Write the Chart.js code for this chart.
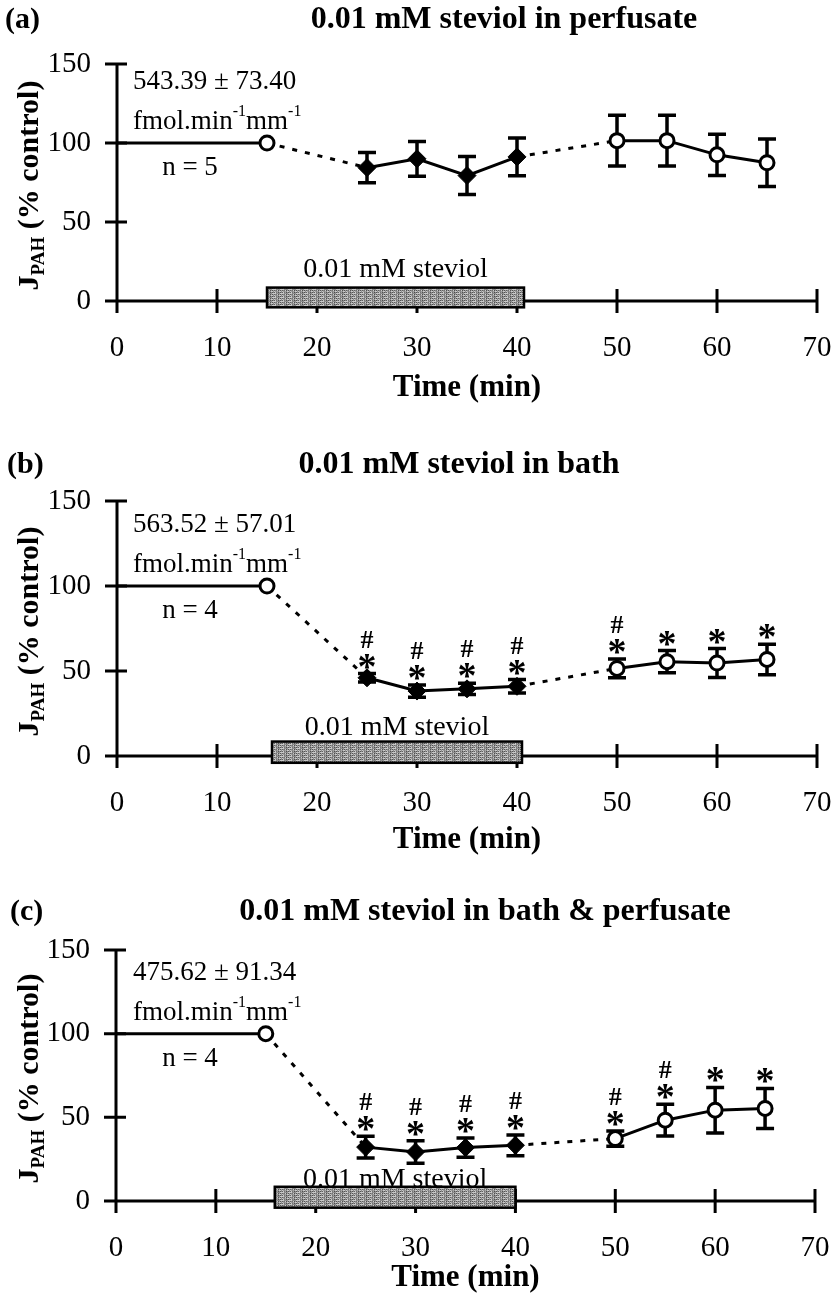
<!DOCTYPE html>
<html>
<head>
<meta charset="utf-8">
<script src="https://cdn.jsdelivr.net/npm/chart.js@4.4.1/dist/chart.umd.min.js"></script>
<style>
  html, body { margin: 0; padding: 0; background: #fff; }
  #wrap { position: relative; width: 835px; height: 1294px; overflow: hidden; background: #fff; }
  #wrap canvas { position: absolute; left: 0; }
</style>
</head>
<body>
<div id="wrap">
  <canvas id="chartA" width="835" height="420"></canvas>
  <canvas id="chartB" width="835" height="450"></canvas>
  <canvas id="chartC" width="835" height="439"></canvas>
</div>
<script>
// ---- data ----
var timePoints = [15, 25, 30, 35, 40, 50, 55, 60, 65];
var duringSteviol = [false, true, true, true, true, false, false, false, false];
var controlSpan = [0, 15];

var perfusateMean = [100, 84.4, 90, 79.4, 91.2, 101.5, 101.5, 92.5, 87.5];
var perfusateSem  = [0, 9.6, 11, 12, 12, 16, 16, 13, 15];
var perfusateStar = [0, 0, 0, 0, 0, 0, 0, 0, 0];
var perfusateHash = [0, 0, 0, 0, 0, 0, 0, 0, 0];

var bathMean = [100, 46, 38.2, 39.5, 41, 51.5, 55.5, 54.7, 56.8];
var bathSem  = [0, 2.5, 3.6, 3.3, 4, 5.5, 6.5, 8.5, 9];
var bathStar = [0, 1, 1, 1, 1, 1, 1, 1, 1];
var bathHash = [0, 1, 1, 1, 1, 1, 0, 0, 0];

var bothMean = [100, 32.2, 29.3, 31.9, 33.3, 37.3, 48.3, 54.3, 55.3];
var bothSem  = [0, 6.5, 6.7, 5.8, 6.2, 4.6, 9.5, 13.6, 12];
var bothStar = [0, 1, 1, 1, 1, 1, 1, 1, 1];
var bothHash = [0, 1, 1, 1, 1, 1, 1, 0, 0];

var steviolStart = [15, 15.5, 15.9];
var steviolEnd   = [40.7, 40.5, 40.0];

var panelTags   = ['(a)', '(b)', '(c)'];
var panelTitles = ['0.01 mM steviol in perfusate', '0.01 mM steviol in bath', '0.01 mM steviol in bath & perfusate'];
var controlText = ['543.39 \u00B1 73.40', '563.52 \u00B1 57.01', '475.62 \u00B1 91.34'];
var nText       = ['n = 5', 'n = 4', 'n = 4'];

var xMin = 0, xMax = 70, xStep = 10;
var yMin = 0, yMax = 150, yStep = 50;

// ---- page layout (pixels, page coordinates) ----
var layout = [
  { id: 'chartA', top: 0,   height: 420, left: 117, right: 817, yTop: 64,  y0: 301,  xTitleY: 388,  tagX: 5,  headY: 20,  titleX: 504, barLabelUp: 31 },
  { id: 'chartB', top: 415, height: 450, left: 117, right: 817, yTop: 501, y0: 756,  xTitleY: 840,  tagX: 7,  headY: 465, titleX: 459, barLabelUp: 28 },
  { id: 'chartC', top: 855, height: 439, left: 116, right: 815, yTop: 950, y0: 1201, xTitleY: 1278, tagX: 10, headY: 912, titleX: 485, barLabelUp: 21 }
];

var serif = '"Liberation Serif", "Times New Roman", serif';

function speckle() {
  var c = document.createElement('canvas');
  c.width = 8; c.height = 8;
  var g = c.getContext('2d');
  var shades = ['#505050', '#a0a0a0', '#727272', '#c8c8c8', '#606060', '#8c8c8c'];
  for (var i = 0; i < 8; i++) {
    for (var j = 0; j < 8; j++) {
      g.fillStyle = shades[(i * 5 + j * 3 + (i * j) % 4) % 6];
      g.fillRect(i, j, 1, 1);
    }
  }
  return c;
}

function panelPlugin(k, mean, sem, star, hash) {
  var p = layout[k];
  return {
    id: 'panelDecor',
    beforeDatasetsDraw: function (chart) {
      var ctx = chart.ctx, xs = chart.scales.x, ys = chart.scales.y;
      var x0 = xs.getPixelForValue(xMin), y0 = ys.getPixelForValue(yMin);
      ctx.save();
      ctx.strokeStyle = '#000';
      ctx.lineWidth = 3;
      ctx.beginPath();
      ctx.moveTo(x0, ys.getPixelForValue(yMax));
      ctx.lineTo(x0, y0 + 12);
      ctx.moveTo(x0 - 12, y0);
      ctx.lineTo(xs.getPixelForValue(xMax), y0);
      ys.ticks.forEach(function (t) {
        var py = ys.getPixelForValue(t.value);
        ctx.moveTo(x0 - 12, py); ctx.lineTo(x0 + 10, py);
      });
      xs.ticks.forEach(function (t) {
        if (t.value === xMin) return;
        var px = xs.getPixelForValue(t.value);
        ctx.moveTo(px, y0 - 12); ctx.lineTo(px, y0 + 12);
      });
      ctx.stroke();

      // steviol application bar
      var bx1 = xs.getPixelForValue(steviolStart[k]);
      var bx2 = xs.getPixelForValue(steviolEnd[k]);
      var by1 = ys.getPixelForValue(8.5);
      var by2 = ys.getPixelForValue(-4);
      ctx.fillStyle = ctx.createPattern(speckle(), 'repeat');
      ctx.fillRect(bx1, by1, bx2 - bx1, by2 - by1);
      ctx.lineWidth = 2.5;
      ctx.strokeRect(bx1, by1, bx2 - bx1, by2 - by1);
      ctx.fillStyle = '#000';
      ctx.font = '28px ' + serif;
      ctx.textAlign = 'center';
      ctx.textBaseline = 'middle';
      ctx.fillText('0.01 mM steviol', (bx1 + bx2) / 2, y0 - p.barLabelUp);

      // error bars
      ctx.lineWidth = 3.5;
      ctx.beginPath();
      timePoints.forEach(function (t, i) {
        if (!sem[i]) return;
        var px = xs.getPixelForValue(t);
        var hi = ys.getPixelForValue(mean[i] + sem[i]);
        var lo = ys.getPixelForValue(mean[i] - sem[i]);
        ctx.moveTo(px, hi); ctx.lineTo(px, lo);
        ctx.moveTo(px - 9, hi); ctx.lineTo(px + 9, hi);
        ctx.moveTo(px - 9, lo); ctx.lineTo(px + 9, lo);
      });
      ctx.stroke();
      ctx.restore();
    },
    afterDatasetsDraw: function (chart) {
      var ctx = chart.ctx, xs = chart.scales.x, ys = chart.scales.y;
      var off = p.top;
      ctx.save();
      ctx.fillStyle = '#000';

      // significance marks
      ctx.textAlign = 'center';
      ctx.textBaseline = 'alphabetic';
      timePoints.forEach(function (t, i) {
        var px = xs.getPixelForValue(t);
        var sy = ys.getPixelForValue(mean[i] + sem[i]) - 13;
        if (star[i]) {
          ctx.font = 'bold 38px ' + serif;
          ctx.fillText('*', px, sy + 18);
        }
        if (hash[i]) {
          ctx.font = 'bold 26px ' + serif;
          ctx.fillText('#', px, sy - 22 + 9);
        }
      });

      // panel tag and title
      ctx.textBaseline = 'middle';
      ctx.textAlign = 'left';
      ctx.font = 'bold 30px ' + serif;
      ctx.fillText(panelTags[k], p.tagX, p.headY - off);
      ctx.textAlign = 'center';
      ctx.font = 'bold 32px ' + serif;
      ctx.fillText(panelTitles[k], p.titleX, p.headY - off);

      // control value annotation
      var y100 = ys.getPixelForValue(100);
      ctx.textAlign = 'left';
      ctx.font = '27px ' + serif;
      ctx.fillText(controlText[k], 133, y100 - 61);
      var fx = 133, fy = y100 - 21;
      var parts = [['fmol.min', 27, 0], ['-1', 16, -10], ['mm', 27, 0], ['-1', 16, -10]];
      parts.forEach(function (s) {
        ctx.font = s[1] + 'px ' + serif;
        ctx.fillText(s[0], fx, fy + s[2]);
        fx += ctx.measureText(s[0]).width;
      });
      ctx.textAlign = 'center';
      ctx.font = '27px ' + serif;
      ctx.fillText(nText[k], 190, y100 + 25);

      // y axis title with subscript
      var cy = (ys.getPixelForValue(yMax) + ys.getPixelForValue(yMin)) / 2 + 3;
      ctx.translate(30, cy);
      ctx.rotate(-Math.PI / 2);
      ctx.textAlign = 'left';
      ctx.textBaseline = 'alphabetic';
      var segs = [['J', 30, 8], ['PAH', 19, 14], [' (% control)', 30, 8]];
      var total = 0;
      segs.forEach(function (s) { ctx.font = 'bold ' + s[1] + 'px ' + serif; total += ctx.measureText(s[0]).width; });
      var tx = -total / 2;
      segs.forEach(function (s) {
        ctx.font = 'bold ' + s[1] + 'px ' + serif;
        ctx.fillText(s[0], tx, s[2]);
        tx += ctx.measureText(s[0]).width;
      });
      ctx.restore();
    }
  };
}

function buildPanel(k, mean, sem, star, hash) {
  var p = layout[k];
  var canvas = document.getElementById(p.id);
  canvas.style.top = p.top + 'px';
  var titleLine = 31;
  var xScaleHeight = p.xTitleY - p.y0 + titleLine / 2;
  var padBottom = p.height - (p.y0 - p.top) - xScaleHeight;

  var points = timePoints.map(function (t, i) { return { x: t, y: mean[i] }; });

  return new Chart(canvas, {
    type: 'line',
    data: {
      datasets: [
        {
          data: points,
          borderColor: '#000',
          borderWidth: 3,
          tension: 0,
          clip: false,
          segment: {
            borderDash: function (c) {
              return duringSteviol[c.p0DataIndex] !== duringSteviol[c.p1DataIndex] ? [5, 8] : undefined;
            }
          },
          pointStyle: duringSteviol.map(function (f) { return f ? 'rectRot' : 'circle'; }),
          pointRadius: duringSteviol.map(function (f) { return f ? 9 : 7; }),
          pointBackgroundColor: duringSteviol.map(function (f) { return f ? '#000' : '#fff'; }),
          pointBorderColor: '#000',
          pointBorderWidth: duringSteviol.map(function (f) { return f ? 1 : 3; })
        },
        {
          data: [{ x: controlSpan[0], y: mean[0] }, { x: controlSpan[1], y: mean[0] }],
          borderColor: '#000',
          borderWidth: 3,
          pointRadius: 0,
          clip: false
        }
      ]
    },
    options: {
      responsive: false,
      animation: false,
      devicePixelRatio: 1,
      events: [],
      layout: { autoPadding: false, padding: { left: 0, right: 835 - p.right, top: p.yTop - p.top, bottom: padBottom } },
      plugins: { legend: { display: false }, tooltip: { enabled: false } },
      scales: {
        x: {
          type: 'linear', min: xMin, max: xMax,
          grid: { display: false, drawTicks: false },
          border: { display: false },
          ticks: { stepSize: xStep, padding: 30, color: '#000', font: { family: serif, size: 29 } },
          title: { display: true, text: 'Time (min)', color: '#000', padding: 0,
                   font: { family: serif, size: 31, weight: 'bold', lineHeight: 1 } },
          afterFit: function (s) {
            s.height = xScaleHeight;
            s.paddingLeft = 0;
            s.paddingRight = 0;
          }
        },
        y: {
          type: 'linear', min: yMin, max: yMax,
          grid: { display: false, drawTicks: false },
          border: { display: false },
          ticks: { stepSize: yStep, padding: 26, color: '#000', font: { family: serif, size: 29 } },
          afterFit: function (s) {
            s.width = p.left;
            s.paddingTop = 0;
            s.paddingBottom = 0;
          }
        }
      }
    },
    plugins: [panelPlugin(k, mean, sem, star, hash)]
  });
}

buildPanel(0, perfusateMean, perfusateSem, perfusateStar, perfusateHash);
buildPanel(1, bathMean, bathSem, bathStar, bathHash);
buildPanel(2, bothMean, bothSem, bothStar, bothHash);
</script>
</body>
</html>
